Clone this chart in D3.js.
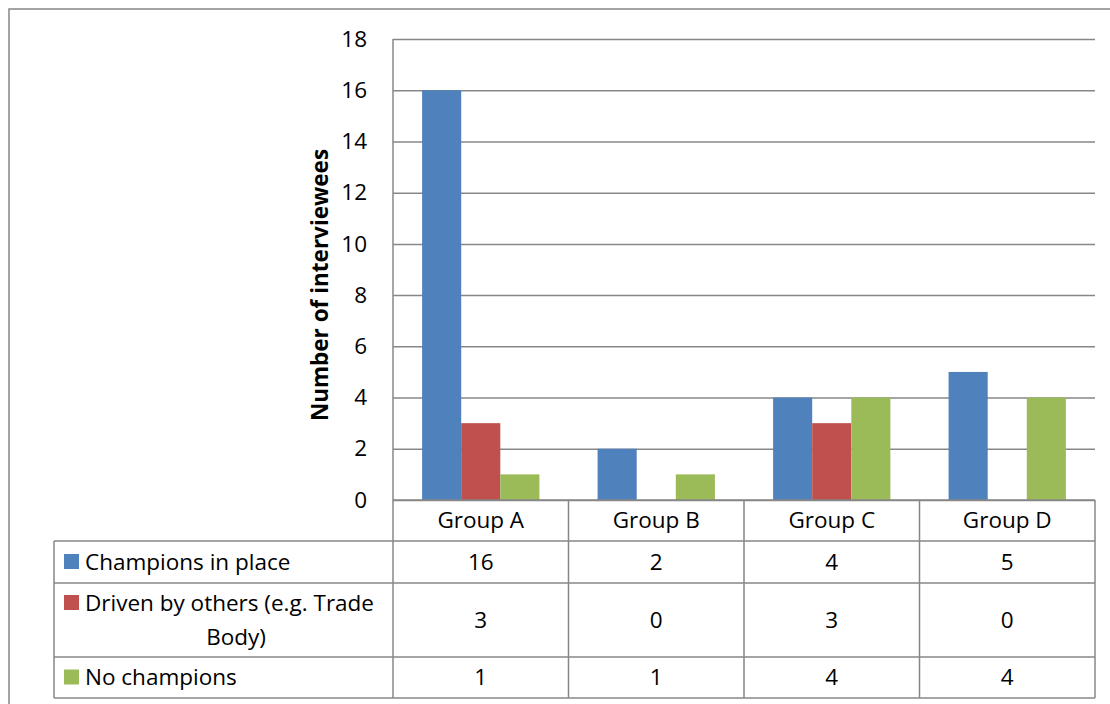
<!DOCTYPE HTML>
<html lang="en">
<head>
	<meta charset="utf-8">
	<script src="https://cdn.jsdelivr.net/npm/d3@7"></script>
	<style>
		body { margin: 0; background: #fff; }
		text { font-family: "Open Sans", "Noto Sans", sans-serif; fill: #000; }
	</style>
</head>
<body>
	<script>

		var groups = ["Group A", "Group B", "Group C", "Group D"];
		var seriesNames = ["Champions in place", "Driven by others (e.g. Trade Body)", "No champions"];
		var champions = [16, 2, 4, 5];
		var drivenByOthers = [3, 0, 3, 0];
		var noChampions = [1, 1, 4, 4];
		var yTicks = [0, 2, 4, 6, 8, 10, 12, 14, 16, 18];
		var colors = ["#4F81BD", "#C0504D", "#9BBB59"];

		var allSeries = [champions, drivenByOthers, noChampions];

		var w = 1110;
		var h = 704;
		var plotL = 393, plotR = 1095, plotT = 39, plotB = 500;
		var tableLeft = 54;
		// row boundaries of the data table below the plot
		var rowY = [500, 541, 583, 657, 698];
		var grid = "#878787";
		var fs = "22.5px";

		var svg = d3.select("body")
			.append("svg")
			.attr("width", w)
			.attr("height", h);

		// outer chart frame
		svg.append("rect")
			.attr("x", 9)
			.attr("y", 9)
			.attr("width", w)
			.attr("height", h)
			.attr("fill", "none")
			.attr("stroke", grid)
			.attr("stroke-width", 1.5);

		var xScale = d3.scaleBand().domain(groups).range([plotL, plotR]);
		var inner = d3.scaleBand().domain(d3.range(3)).range([0, xScale.bandwidth()]).paddingOuter(0.744);
		var yScale = d3.scaleLinear().domain([0, 18]).range([plotB, plotT]);

		var yAxis = svg.append("g")
			.attr("transform", "translate(" + plotL + ",0)")
			.call(d3.axisLeft(yScale).tickValues(yTicks).tickSize(-(plotR - plotL)).tickPadding(26));
		yAxis.select(".domain").remove();
		yAxis.selectAll("line").attr("stroke", grid).attr("stroke-width", 1.5);
		yAxis.selectAll("text").style("font-size", fs).attr("font-family", null);

		// bars
		allSeries.forEach(function(vals, s) {
			svg.append("g").selectAll("rect")
				.data(vals)
				.enter()
				.append("rect")
				.attr("x", function(d, i) { return xScale(groups[i]) + inner(s); })
				.attr("y", function(d) { return yScale(d); })
				.attr("width", inner.bandwidth())
				.attr("height", function(d) { return plotB - yScale(d); })
				.attr("fill", colors[s]);
		});

		// vertical axis line, runs into the table
		svg.append("line")
			.attr("x1", plotL).attr("x2", plotL)
			.attr("y1", plotT).attr("y2", rowY[4])
			.attr("stroke", grid).attr("stroke-width", 1.5);

		// table lines
		var tbl = svg.append("g").attr("stroke", grid).attr("stroke-width", 1.5);
		tbl.append("line").attr("x1", plotL).attr("x2", plotR).attr("y1", rowY[0]).attr("y2", rowY[0]);
		rowY.slice(1).forEach(function(y) {
			tbl.append("line").attr("x1", tableLeft).attr("x2", plotR).attr("y1", y).attr("y2", y);
		});
		groups.forEach(function(g) {
			var x = xScale(g) + xScale.bandwidth();
			tbl.append("line").attr("x1", x).attr("x2", x).attr("y1", rowY[0]).attr("y2", rowY[4]);
		});
		tbl.append("line").attr("x1", tableLeft).attr("x2", tableLeft).attr("y1", rowY[1]).attr("y2", rowY[4]);

		// header row
		svg.append("g").selectAll("text")
			.data(groups)
			.enter()
			.append("text")
			.attr("x", function(d) { return xScale(d) + xScale.bandwidth() / 2; })
			.attr("y", (rowY[0] + rowY[1]) / 2)
			.attr("dy", "0.35em")
			.attr("text-anchor", "middle")
			.style("font-size", fs)
			.text(function(d) { return d; });

		// value rows
		allSeries.forEach(function(vals, s) {
			var cy = (rowY[s + 1] + rowY[s + 2]) / 2;
			svg.append("g").selectAll("text")
				.data(vals)
				.enter()
				.append("text")
				.attr("x", function(d, i) { return xScale(groups[i]) + xScale.bandwidth() / 2; })
				.attr("y", cy)
				.attr("dy", "0.35em")
				.attr("text-anchor", "middle")
				.style("font-size", fs)
				.text(function(d) { return d; });

			// legend key
			var ky = s == 1 ? rowY[2] + 20 : cy;
			svg.append("rect")
				.attr("x", 64).attr("y", ky - 8)
				.attr("width", 15).attr("height", 15)
				.attr("fill", colors[s]);
		});

		svg.append("text").attr("x", 85).attr("y", (rowY[1] + rowY[2]) / 2).attr("dy", "0.35em")
			.style("font-size", fs).text(seriesNames[0]);
		svg.append("text").attr("x", 85).attr("y", rowY[2] + 20).attr("dy", "0.35em")
			.style("font-size", fs).text("Driven by others (e.g. Trade");
		svg.append("text").attr("x", 236).attr("y", rowY[2] + 54).attr("dy", "0.35em")
			.attr("text-anchor", "middle")
			.style("font-size", fs).text("Body)");
		svg.append("text").attr("x", 85).attr("y", (rowY[3] + rowY[4]) / 2).attr("dy", "0.35em")
			.style("font-size", fs).text(seriesNames[2]);

		// y axis title
		svg.append("text")
			.attr("transform", "translate(320,285) rotate(-90)")
			.attr("dy", "0.35em")
			.attr("text-anchor", "middle")
			.style("font-size", fs)
			.style("font-weight", "bold")
			.text("Number of interviewees");

	</script>
</body>
</html>
